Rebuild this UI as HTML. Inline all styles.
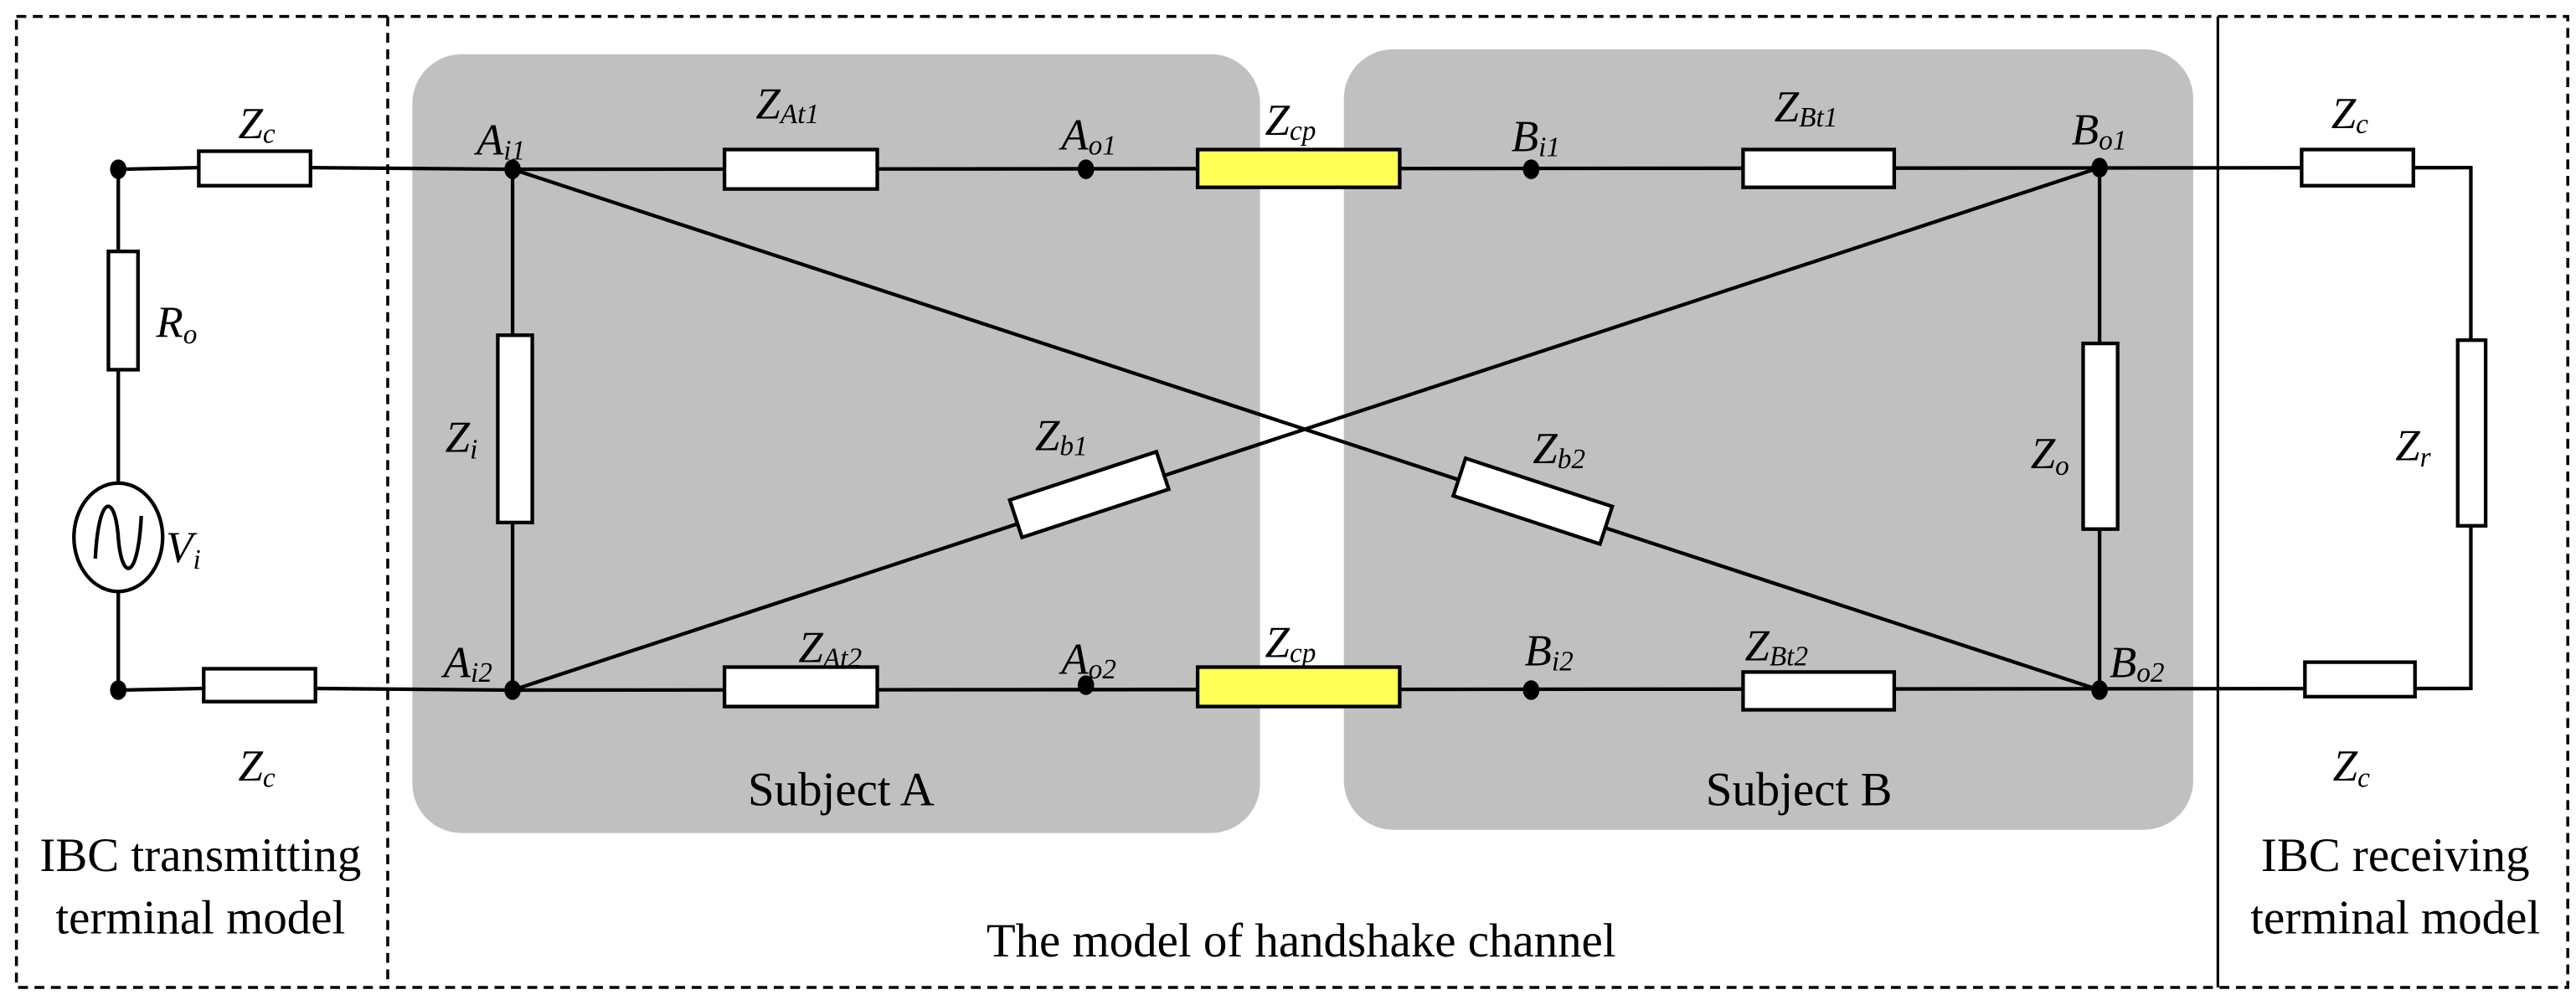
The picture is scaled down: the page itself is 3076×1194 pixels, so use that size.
<!DOCTYPE html>
<html><head><meta charset="utf-8"><style>html,body{margin:0;padding:0;background:#fff}svg{display:block}
text{font-family:"Liberation Serif",serif;fill:#000}
.l{font-style:italic;font-size:27px}
.s{font-size:17px;font-style:italic}
.t{font-size:29px}
</style></head><body>
<svg width="3076" height="1194" viewBox="0 0 1568 608.6" xmlns="http://www.w3.org/2000/svg">
<g fill="none" stroke="#000" stroke-width="1.8" stroke-dasharray="6,4">
<rect x="10" y="10" width="1553" height="591"/>
<line x1="236" y1="10" x2="236" y2="601"/>
</g>
<line x1="1350" y1="10" x2="1350" y2="601" stroke="#000" stroke-width="1.6"/>
<rect x="251" y="33" width="516" height="474" rx="30" fill="#c0c0c0"/>
<rect x="818" y="30" width="517" height="475" rx="30" fill="#c0c0c0"/>
<g stroke="#000" stroke-width="2.2" fill="none">
<polyline points="72,103 121,102"/><polyline points="189,102 312,103"/>
<line x1="72" y1="103" x2="72" y2="153"/><line x1="72" y1="225" x2="72" y2="294"/>
<line x1="72" y1="360" x2="72" y2="420"/>
<polyline points="72,420 124,419"/><polyline points="192,419 312,420"/>
<line x1="312" y1="103" x2="1504" y2="102"/>
<line x1="312" y1="420" x2="1504" y2="419"/>
<line x1="312" y1="103" x2="312" y2="420"/>
<line x1="1278" y1="102" x2="1278" y2="420"/>
<line x1="1504" y1="101" x2="1504" y2="420"/>
<line x1="312" y1="103" x2="1278" y2="420"/>
<line x1="312" y1="420" x2="1278" y2="102"/>
</g>
<g stroke="#000" stroke-width="2.2" fill="#fff">
<rect x="121" y="92" width="68" height="21"/>
<rect x="66" y="153" width="18" height="72"/>
<ellipse cx="72" cy="327" rx="27" ry="33"/>
<rect x="124" y="407" width="68" height="20"/>
<rect x="303" y="204" width="21" height="114"/>
<rect x="441" y="91" width="93" height="24"/>
<rect x="1061" y="91" width="92" height="23"/>
<rect x="1268" y="209" width="21" height="113"/>
<rect x="441" y="406" width="93" height="24"/>
<rect x="1061" y="409" width="92" height="23"/>
<rect x="1401" y="91" width="68" height="22"/>
<rect x="1403" y="403" width="67" height="21"/>
<rect x="1496" y="207" width="17" height="113"/>
<rect x="616" y="289" width="94" height="24" transform="rotate(-18.2 663 301)"/>
<rect x="886" y="293" width="94" height="24" transform="rotate(18.2 933 305)"/>
<rect x="729" y="91" width="123" height="23" fill="#ffff55"/>
<rect x="729" y="406" width="123" height="24" fill="#ffff55"/>
</g>
<path d="M58,340 C60,300 70,300 72,327 C74,354 84,354 86,314" fill="none" stroke="#000" stroke-width="2.2"/>
<g fill="#000">
<ellipse cx="72" cy="103" rx="5" ry="6"/><ellipse cx="72" cy="420" rx="5" ry="6"/>
<ellipse cx="312" cy="103" rx="5" ry="6"/><ellipse cx="312" cy="420" rx="5" ry="6"/>
<ellipse cx="661" cy="103" rx="5" ry="6"/><ellipse cx="661" cy="417" rx="5" ry="6"/>
<ellipse cx="932" cy="103" rx="5" ry="6"/><ellipse cx="932" cy="420" rx="5" ry="6"/>
<ellipse cx="1278" cy="102" rx="5" ry="6"/><ellipse cx="1278" cy="420" rx="5" ry="6"/>
</g>
<text class="l" x="145" y="84">Z<tspan class="s" dy="3">c</tspan></text>
<text class="l" x="95" y="205">R<tspan class="s" dy="4">o</tspan></text>
<text class="l" x="101" y="342">V<tspan class="s" dy="4">i</tspan></text>
<text class="l" x="145" y="475">Z<tspan class="s" dy="4">c</tspan></text>
<text class="l" x="290" y="94">A<tspan class="s" dy="3">i1</tspan></text>
<text class="l" x="271" y="275">Z<tspan class="s" dy="4">i</tspan></text>
<text class="l" x="460" y="72">Z<tspan class="s" dy="3">At1</tspan></text>
<text class="l" x="646" y="91">A<tspan class="s" dy="3">o1</tspan></text>
<text class="l" x="770" y="82">Z<tspan class="s" dy="3">cp</tspan></text>
<text class="l" x="920" y="92">B<tspan class="s" dy="3">i1</tspan></text>
<text class="l" x="1080" y="74">Z<tspan class="s" dy="3">Bt1</tspan></text>
<text class="l" x="1261" y="88">B<tspan class="s" dy="3">o1</tspan></text>
<text class="l" x="630" y="274">Z<tspan class="s" dy="3">b1</tspan></text>
<text class="l" x="933" y="282">Z<tspan class="s" dy="3">b2</tspan></text>
<text class="l" x="1236" y="285">Z<tspan class="s" dy="4">o</tspan></text>
<text class="l" x="1458" y="280">Z<tspan class="s" dy="4">r</tspan></text>
<text class="l" x="270" y="412">A<tspan class="s" dy="3">i2</tspan></text>
<text class="l" x="486" y="403">Z<tspan class="s" dy="3">At2</tspan></text>
<text class="l" x="646" y="410">A<tspan class="s" dy="3">o2</tspan></text>
<text class="l" x="770" y="400">Z<tspan class="s" dy="3">cp</tspan></text>
<text class="l" x="928" y="405">B<tspan class="s" dy="3">i2</tspan></text>
<text class="l" x="1062" y="402">Z<tspan class="s" dy="3">Bt2</tspan></text>
<text class="l" x="1284" y="412">B<tspan class="s" dy="3">o2</tspan></text>
<text class="l" x="1419" y="78">Z<tspan class="s" dy="3">c</tspan></text>
<text class="l" x="1420" y="475">Z<tspan class="s" dy="4">c</tspan></text>
<text class="t" x="512" y="490" text-anchor="middle">Subject A</text>
<text class="t" x="1095" y="490" text-anchor="middle">Subject B</text>
<text class="t" x="122" y="530" text-anchor="middle">IBC transmitting</text>
<text class="t" x="122" y="568" text-anchor="middle">terminal model</text>
<text class="t" x="792" y="582" text-anchor="middle">The model of handshake channel</text>
<text class="t" x="1458" y="530" text-anchor="middle">IBC receiving</text>
<text class="t" x="1458" y="568" text-anchor="middle">terminal model</text>
</svg>
</body></html>
